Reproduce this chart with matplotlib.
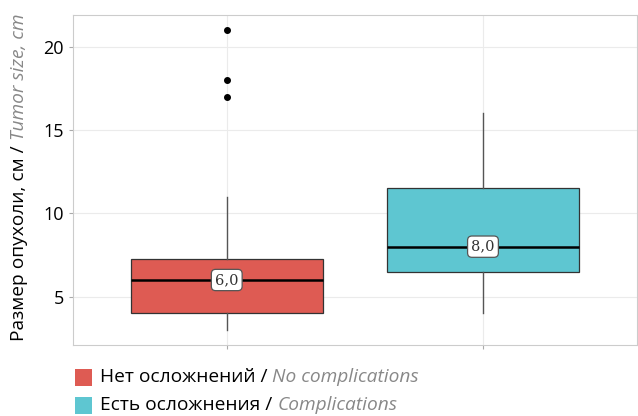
import matplotlib
matplotlib.use("Agg")
import matplotlib.pyplot as plt
from matplotlib.patches import Rectangle
import numpy as np

plt.rcParams['font.family'] = ['Open Sans', 'DejaVu Sans']

groups = ["Нет осложнений", "Есть осложнения"]
groups_en = ["No complications", "Complications"]
colors = ["#DE5B53", "#5EC6D1"]
q1 = [4.0, 6.5]
median = [6.0, 8.0]
q3 = [7.25, 11.5]
whislo = [3.0, 4.0]
whishi = [11.0, 16.0]
outliers = [[17.0, 18.0, 21.0], []]
median_labels = ["6,0", "8,0"]
yticks = [5, 10, 15, 20]

W, H = 638, 416
fig = plt.figure(figsize=(W/100, H/100), dpi=100)
ax = fig.add_axes([73/W, 1-345/H, 1-73/W-0.002, (345-15)/H])

stats = []
for i in range(2):
    stats.append(dict(med=median[i], q1=q1[i], q3=q3[i], whislo=whislo[i],
                      whishi=whishi[i], fliers=outliers[i], label=groups[i]))
pos = [1, 2]
bp = ax.bxp(stats, positions=pos, widths=0.75, patch_artist=True, showcaps=False,
            boxprops=dict(edgecolor="#333333", linewidth=0.9),
            medianprops=dict(color="black", linewidth=1.8),
            whiskerprops=dict(color="#555555", linewidth=1.0),
            flierprops=dict(marker='o', markerfacecolor='black', markeredgecolor='black', markersize=4),
            zorder=3)
for patch, c in zip(bp['boxes'], colors):
    patch.set_facecolor(c)

for i in range(2):
    ax.text(pos[i], median[i], median_labels[i], ha='center', va='center', fontsize=10.5,
            family='DejaVu Serif', color='#333333', zorder=5,
            bbox=dict(boxstyle='round,pad=0.25,rounding_size=0.3', fc='white', ec='#555555', lw=0.9))

ax.set_xlim(0.4, 2.6)
ax.set_ylim(2.1, 21.9)
ax.set_yticks(yticks)
ax.set_xticks(pos)
ax.set_xticklabels([])
ax.tick_params(axis='y', labelsize=13, colors='#AAAAAA', labelcolor='black', length=3, width=0.8)
ax.tick_params(axis='x', colors='#AAAAAA', length=3, width=0.8)
ax.grid(True, color='#EBEBEB', linewidth=0.8, zorder=0)
ax.set_axisbelow(True)
for s in ax.spines.values():
    s.set_color('#CCCCCC')
    s.set_linewidth(0.8)

FS = 13.8
fig.canvas.draw()
r = fig.canvas.get_renderer()
# y label (two styles)
t1 = fig.text(19/W, 1-341/H, "Размер опухоли, см / ", rotation=90, ha='left', va='center',
              rotation_mode='anchor', fontsize=FS, color='black')
fig.canvas.draw()
bb = t1.get_window_extent(r)
fig.text(19/W, bb.y1/H, "Tumor size, cm", rotation=90, ha='left', va='center',
         rotation_mode='anchor', fontsize=FS, color='#888888', style='italic')

# legend
ys = [377, 405]
for i in range(2):
    fig.patches.append(Rectangle((75/W, 1-(ys[i]+8.5)/H), 17/W, 17/H,
                                 transform=fig.transFigure, facecolor=colors[i], edgecolor='none'))
    ta = fig.text(100/W, 1-ys[i]/H, groups[i] + " / ", ha='left', va='center',
                  fontsize=FS, color='black')
    fig.canvas.draw()
    b = ta.get_window_extent(r)
    fig.text(b.x1/W, 1-ys[i]/H, groups_en[i], ha='left', va='center',
             fontsize=FS, color='#888888', style='italic')

fig.savefig("out.png", dpi=100)
